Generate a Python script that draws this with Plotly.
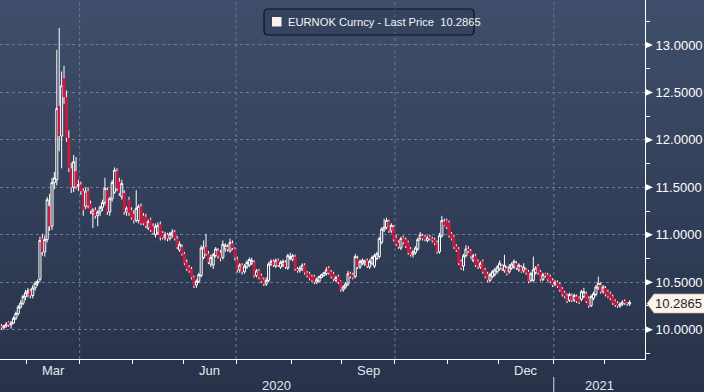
import plotly.graph_objects as go
import pandas as pd

# ---------------- data ----------------
start_date = "2020-02-14"
series_name = "EURNOK Curncy - Last Price"
last_price = 10.2865
y_ticks = [10.0, 10.5, 11.0, 11.5, 12.0, 12.5, 13.0]
labelled_months = ["Mar", "Jun", "Sep", "Dec"]

open_ = [
    10.04, 10.02, 10.04, 10.08, 10.05, 10.07, 10.12, 10.17, 10.24, 10.28,
    10.35, 10.39, 10.41, 10.36, 10.44, 10.49, 10.53, 10.96, 10.82, 10.95,
    11.30, 11.09, 11.55, 11.58, 12.36, 12.04, 12.65, 12.45, 12.02, 11.70,
    11.50, 11.67, 11.51, 11.53, 11.46, 11.30, 11.46, 11.33, 11.22, 11.26,
    11.20, 11.24, 11.29, 11.34, 11.47, 11.24, 11.38, 11.45, 11.67, 11.56,
    11.40, 11.44, 11.24, 11.37, 11.26, 11.22, 11.15, 11.15, 11.30, 11.20,
    11.19, 11.07, 11.16, 11.09, 11.00, 11.02, 11.11, 11.02, 10.97, 11.00,
    10.96, 11.00, 11.03, 10.96, 10.84, 10.87, 10.80, 10.71, 10.66, 10.64,
    10.55, 10.47, 10.51, 10.57, 10.76, 10.87, 10.80, 10.69, 10.68, 10.78,
    10.83, 10.81, 10.76, 10.85, 10.87, 10.83, 10.91, 10.85, 10.74, 10.63,
    10.68, 10.61, 10.66, 10.68, 10.70, 10.71, 10.57, 10.62, 10.57, 10.53,
    10.48, 10.52, 10.69, 10.72, 10.67, 10.73, 10.66, 10.68, 10.71, 10.65,
    10.75, 10.74, 10.77, 10.64, 10.62, 10.64, 10.68, 10.60, 10.59, 10.56,
    10.56, 10.50, 10.51, 10.55, 10.57, 10.59, 10.65, 10.61, 10.59, 10.52,
    10.56, 10.51, 10.42, 10.45, 10.48, 10.59, 10.58, 10.56, 10.75, 10.66,
    10.70, 10.69, 10.73, 10.66, 10.70, 10.67, 10.75, 10.77, 10.92, 11.05,
    11.08, 11.14, 11.04, 11.08, 10.97, 10.92, 10.86, 10.97, 10.95, 10.92,
    10.85, 10.79, 10.81, 10.85, 10.96, 10.99, 10.98, 10.94, 10.98, 10.96,
    10.95, 10.92, 10.82, 10.99, 11.14, 11.15, 11.13, 11.01, 10.98, 10.88,
    10.85, 10.72, 10.67, 10.78, 10.85, 10.83, 10.73, 10.78, 10.72, 10.66,
    10.72, 10.63, 10.59, 10.52, 10.56, 10.58, 10.61, 10.64, 10.67, 10.62,
    10.65, 10.61, 10.65, 10.66, 10.70, 10.63, 10.66, 10.62, 10.63, 10.61,
    10.52, 10.52, 10.60, 10.67, 10.61, 10.53, 10.59, 10.58, 10.56, 10.52,
    10.48, 10.50, 10.48, 10.43, 10.39, 10.36, 10.31, 10.36, 10.31, 10.35,
    10.33, 10.32, 10.35, 10.38, 10.33, 10.25, 10.33, 10.37, 10.44, 10.47,
    10.40, 10.44, 10.40, 10.38, 10.35, 10.30, 10.28, 10.25, 10.27, 10.30,
    10.28, 10.27,
]
high = [
    10.06, 10.05, 10.08, 10.09, 10.09, 10.14, 10.19, 10.26, 10.31, 10.37,
    10.42, 10.44, 10.43, 10.47, 10.51, 10.53, 10.98, 11.01, 10.99, 11.40,
    11.43, 11.60, 11.66, 12.95, 13.18, 12.72, 12.78, 12.52, 12.10, 11.76,
    11.84, 11.82, 11.58, 11.56, 11.49, 11.50, 11.50, 11.36, 11.28, 11.29,
    11.26, 11.31, 11.37, 11.60, 11.50, 11.40, 11.58, 11.71, 11.70, 11.60,
    11.58, 11.47, 11.30, 11.40, 11.29, 11.26, 11.47, 11.32, 11.33, 11.23,
    11.22, 11.16, 11.18, 11.12, 11.12, 11.13, 11.14, 11.04, 11.03, 11.02,
    11.03, 11.06, 11.05, 10.99, 10.93, 10.90, 10.82, 10.74, 10.68, 10.66,
    10.57, 10.53, 10.60, 10.89, 10.94, 11.01, 10.83, 10.79, 10.81, 10.87,
    10.86, 10.84, 10.94, 10.91, 10.90, 10.96, 10.94, 10.87, 10.77, 10.70,
    10.70, 10.69, 10.73, 10.76, 10.76, 10.73, 10.64, 10.64, 10.59, 10.55,
    10.55, 10.71, 10.74, 10.74, 10.75, 10.75, 10.73, 10.74, 10.73, 10.80,
    10.81, 10.80, 10.79, 10.66, 10.67, 10.70, 10.70, 10.62, 10.61, 10.58,
    10.58, 10.55, 10.57, 10.59, 10.61, 10.66, 10.67, 10.63, 10.61, 10.57,
    10.58, 10.52, 10.47, 10.50, 10.62, 10.61, 10.60, 10.80, 10.78, 10.74,
    10.75, 10.74, 10.75, 10.74, 10.78, 10.80, 10.82, 10.98, 11.08, 11.17,
    11.18, 11.16, 11.12, 11.10, 11.00, 10.94, 10.98, 10.99, 10.97, 10.94,
    10.87, 10.84, 10.88, 10.97, 11.03, 11.01, 11.00, 10.99, 11.00, 10.98,
    10.97, 10.94, 11.02, 11.20, 11.17, 11.17, 11.15, 11.03, 11.00, 10.90,
    10.87, 10.74, 10.80, 10.89, 10.88, 10.85, 10.80, 10.80, 10.74, 10.72,
    10.74, 10.65, 10.61, 10.60, 10.63, 10.65, 10.68, 10.73, 10.69, 10.79,
    10.67, 10.69, 10.71, 10.74, 10.72, 10.70, 10.68, 10.70, 10.65, 10.63,
    10.61, 10.77, 10.67, 10.69, 10.63, 10.60, 10.60, 10.60, 10.58, 10.54,
    10.52, 10.52, 10.50, 10.45, 10.41, 10.38, 10.39, 10.38, 10.38, 10.37,
    10.35, 10.42, 10.44, 10.40, 10.35, 10.37, 10.40, 10.47, 10.56, 10.50,
    10.47, 10.46, 10.42, 10.40, 10.37, 10.32, 10.30, 10.29, 10.31, 10.32,
    10.29, 10.31,
]
low = [
    10.00, 10.00, 10.02, 10.03, 10.01, 10.06, 10.10, 10.15, 10.22, 10.26,
    10.31, 10.34, 10.33, 10.33, 10.41, 10.46, 10.50, 10.78, 10.77, 10.92,
    11.04, 11.05, 11.48, 11.52, 11.88, 11.70, 12.38, 11.98, 11.66, 11.44,
    11.45, 11.48, 11.46, 11.42, 11.20, 11.27, 11.28, 11.22, 11.07, 11.17,
    11.09, 11.20, 11.25, 11.31, 11.21, 11.20, 11.35, 11.43, 11.46, 11.41,
    11.37, 11.21, 11.20, 11.20, 11.16, 11.12, 11.13, 11.12, 11.10, 11.10,
    11.07, 11.05, 11.03, 11.00, 10.97, 11.00, 10.94, 10.95, 10.94, 10.93,
    10.94, 10.97, 10.94, 10.85, 10.82, 10.78, 10.68, 10.62, 10.60, 10.53,
    10.44, 10.44, 10.49, 10.55, 10.74, 10.78, 10.69, 10.66, 10.64, 10.76,
    10.75, 10.72, 10.74, 10.82, 10.82, 10.81, 10.84, 10.73, 10.60, 10.60,
    10.58, 10.59, 10.64, 10.66, 10.68, 10.55, 10.55, 10.53, 10.49, 10.46,
    10.46, 10.50, 10.67, 10.66, 10.65, 10.66, 10.64, 10.66, 10.64, 10.63,
    10.73, 10.72, 10.62, 10.60, 10.60, 10.62, 10.58, 10.55, 10.52, 10.50,
    10.48, 10.48, 10.50, 10.54, 10.56, 10.57, 10.58, 10.54, 10.51, 10.50,
    10.48, 10.40, 10.40, 10.43, 10.46, 10.54, 10.53, 10.54, 10.64, 10.64,
    10.68, 10.67, 10.65, 10.64, 10.68, 10.65, 10.73, 10.75, 10.90, 11.03,
    11.06, 11.02, 11.02, 10.93, 10.88, 10.85, 10.84, 10.90, 10.86, 10.79,
    10.77, 10.76, 10.79, 10.83, 10.94, 10.94, 10.93, 10.92, 10.94, 10.92,
    10.89, 10.80, 10.80, 10.97, 11.09, 11.06, 10.97, 10.94, 10.85, 10.82,
    10.68, 10.63, 10.62, 10.76, 10.81, 10.75, 10.71, 10.66, 10.64, 10.64,
    10.59, 10.54, 10.50, 10.50, 10.54, 10.56, 10.59, 10.62, 10.62, 10.60,
    10.57, 10.59, 10.63, 10.64, 10.63, 10.61, 10.60, 10.60, 10.58, 10.49,
    10.50, 10.50, 10.58, 10.58, 10.51, 10.51, 10.55, 10.51, 10.49, 10.45,
    10.46, 10.44, 10.40, 10.35, 10.33, 10.28, 10.29, 10.29, 10.29, 10.28,
    10.27, 10.30, 10.33, 10.28, 10.23, 10.24, 10.31, 10.35, 10.42, 10.38,
    10.38, 10.35, 10.33, 10.31, 10.26, 10.24, 10.23, 10.23, 10.25, 10.26,
    10.25, 10.25,
]
close = [
    10.02, 10.04, 10.06, 10.05, 10.07, 10.12, 10.17, 10.24, 10.28, 10.35,
    10.39, 10.41, 10.36, 10.44, 10.49, 10.51, 10.94, 10.82, 10.95, 11.37,
    11.09, 11.55, 11.60, 12.33, 12.04, 12.57, 12.45, 12.02, 11.70, 11.50,
    11.77, 11.51, 11.53, 11.46, 11.26, 11.46, 11.31, 11.25, 11.26, 11.20,
    11.24, 11.29, 11.34, 11.49, 11.24, 11.38, 11.55, 11.68, 11.49, 11.44,
    11.54, 11.24, 11.28, 11.23, 11.18, 11.15, 11.28, 11.30, 11.12, 11.12,
    11.09, 11.14, 11.05, 11.02, 11.09, 11.10, 10.97, 10.97, 11.00, 10.96,
    11.01, 11.03, 10.96, 10.87, 10.90, 10.80, 10.70, 10.64, 10.62, 10.55,
    10.46, 10.51, 10.58, 10.86, 10.87, 10.80, 10.71, 10.76, 10.79, 10.85,
    10.78, 10.75, 10.90, 10.89, 10.85, 10.92, 10.86, 10.76, 10.63, 10.68,
    10.61, 10.67, 10.71, 10.74, 10.73, 10.57, 10.62, 10.55, 10.51, 10.48,
    10.52, 10.69, 10.72, 10.68, 10.73, 10.68, 10.71, 10.72, 10.66, 10.78,
    10.77, 10.78, 10.64, 10.62, 10.65, 10.68, 10.60, 10.57, 10.54, 10.52,
    10.50, 10.53, 10.56, 10.58, 10.60, 10.63, 10.60, 10.56, 10.53, 10.55,
    10.50, 10.42, 10.45, 10.48, 10.59, 10.56, 10.55, 10.77, 10.66, 10.72,
    10.73, 10.72, 10.67, 10.72, 10.76, 10.78, 10.80, 10.96, 11.06, 11.08,
    11.15, 11.04, 11.10, 10.95, 10.90, 10.87, 10.96, 10.92, 10.88, 10.81,
    10.79, 10.82, 10.86, 10.95, 11.00, 10.96, 10.95, 10.97, 10.96, 10.94,
    10.91, 10.82, 10.99, 11.15, 11.10, 11.08, 10.99, 10.96, 10.87, 10.84,
    10.70, 10.65, 10.78, 10.85, 10.83, 10.77, 10.78, 10.68, 10.66, 10.70,
    10.61, 10.56, 10.52, 10.58, 10.61, 10.63, 10.66, 10.70, 10.65, 10.68,
    10.59, 10.66, 10.69, 10.72, 10.65, 10.68, 10.61, 10.66, 10.60, 10.51,
    10.59, 10.63, 10.65, 10.60, 10.53, 10.58, 10.57, 10.53, 10.51, 10.47,
    10.50, 10.46, 10.42, 10.37, 10.35, 10.30, 10.37, 10.31, 10.36, 10.30,
    10.29, 10.40, 10.40, 10.30, 10.25, 10.35, 10.38, 10.45, 10.49, 10.40,
    10.45, 10.37, 10.35, 10.33, 10.28, 10.26, 10.25, 10.27, 10.29, 10.28,
    10.27, 10.2865,
]

# ---------------- geometry / style ----------------
W, H = 704, 392
MR, MB = 59, 33
PW, PH = W - MR, H - MB          # plot area 645 x 359
FONT = "Liberation Sans, Arial, sans-serif"
RED = "#c41c42"
GRID = "#6a7c98"
TXT = "#ffffff"

dates = pd.bdate_range(start_date, periods=len(close))
pos = list(range(len(dates)))
x_range = [-0.6, 267.4]
y_range = [9.691, 13.474]


def pxx(p):
    return p / PW


def pxy(p):
    return (PH - p) / PH


# month boundaries (between last trading day of a month and first of the next)
bounds = []
for k in range(1, len(dates)):
    if dates[k].month != dates[k - 1].month:
        bounds.append((k - 0.5, dates[k]))

body_top = [max(o, c) for o, c in zip(open_, close)]
body_bot = [min(o, c) for o, c in zip(open_, close)]

# white wicks (upper and lower) drawn from the high / low lists
wx, wy = [], []
for k in pos:
    wx += [k, k, None, k, k, None]
    wy += [low[k], body_bot[k], None, body_top[k], high[k], None]

fig = go.Figure()
fig.add_trace(go.Scatter(x=wx, y=wy, mode="lines", line=dict(color="white", width=1),
                         hoverinfo="skip", showlegend=False))
fig.add_trace(go.Candlestick(
    x=pos, open=open_, high=body_top, low=body_bot, close=close,
    increasing=dict(line=dict(color="white", width=1), fillcolor="rgba(0,0,0,0)"),
    decreasing=dict(line=dict(color=RED, width=1), fillcolor=RED),
    whiskerwidth=0, showlegend=False, hoverinfo="skip",
))

shapes = []
# gradient background
top = (63, 78, 106)
bot = (40, 50, 73)
n = 40
y_lo, y_hi = (PH - H) / PH, 1.0
for j in range(n):
    t = j / (n - 1)
    c = tuple(int(round(bot[m] + (top[m] - bot[m]) * t)) for m in range(3))
    y0 = y_lo + (y_hi - y_lo) * j / n
    y1 = y_lo + (y_hi - y_lo) * (j + 1) / n + 0.002
    shapes.append(dict(type="rect", xref="paper", yref="paper", x0=-0.01, x1=1.2,
                       y0=y0, y1=y1, fillcolor="rgb(%d,%d,%d)" % c, line_width=0,
                       layer="below"))

# quarterly vertical gridlines
for b, d in bounds:
    if d.month in (1, 4, 7, 10):
        shapes.append(dict(type="line", xref="x", yref="paper", x0=b, x1=b, y0=0, y1=1,
                           line=dict(color=GRID, width=1, dash="3px,3px"), layer="below"))

# year separator under the axis
jan_b = [b for b, d in bounds if d.month == 1][0]
shapes.append(dict(type="line", xref="x", yref="paper", x0=jan_b, x1=jan_b,
                   y0=pxy(377), y1=pxy(392), line=dict(color="#d8dde6", width=1)))

# triangular major ticks on the right axis
dv = 3.6 * (y_range[1] - y_range[0]) / PH
for v in y_ticks:
    shapes.append(dict(type="path", xref="paper", yref="y",
                       path="M 1,%f L %f,%f L 1,%f Z" % (v - dv, 1 + 8 / PW, v, v + dv),
                       fillcolor="white", line_width=0))

# legend box (rounded) + square marker
bx0, bx1, by0, by1, r = 264, 474, 9, 35, 4
p = ("M %f,%f L %f,%f Q %f,%f %f,%f L %f,%f Q %f,%f %f,%f L %f,%f Q %f,%f %f,%f "
     "L %f,%f Q %f,%f %f,%f Z") % (
    pxx(bx0 + r), pxy(by0), pxx(bx1 - r), pxy(by0), pxx(bx1), pxy(by0), pxx(bx1), pxy(by0 + r),
    pxx(bx1), pxy(by1 - r), pxx(bx1), pxy(by1), pxx(bx1 - r), pxy(by1),
    pxx(bx0 + r), pxy(by1), pxx(bx0), pxy(by1), pxx(bx0), pxy(by1 - r),
    pxx(bx0), pxy(by0 + r), pxx(bx0), pxy(by0), pxx(bx0 + r), pxy(by0))
shapes.append(dict(type="path", xref="paper", yref="paper", path=p,
                   fillcolor="rgba(30,38,58,0.25)", line=dict(color="#0d1220", width=1.2)))
shapes.append(dict(type="rect", xref="paper", yref="paper", x0=pxx(272), x1=pxx(281.5),
                   y0=pxy(26.5), y1=pxy(17), fillcolor="#fdf1ec", line_width=0))

# last-price tag
tag_y = 303.5
tp = "M %f,%f L %f,%f L %f,%f L %f,%f L %f,%f Z" % (
    pxx(647), pxy(tag_y), pxx(654), pxy(tag_y - 9.5), pxx(705), pxy(tag_y - 9.5),
    pxx(705), pxy(tag_y + 9.5), pxx(654), pxy(tag_y + 9.5))
shapes.append(dict(type="path", xref="paper", yref="paper", path=tp,
                   fillcolor="#fdf3e6", line=dict(color="#c9c2b8", width=0.6)))

annotations = []
# month labels centred in their month
months = {}
for k, d in enumerate(dates):
    months.setdefault((d.year, d.month), []).append(k)
for (yy, mm), ks in months.items():
    name = pd.Timestamp(year=yy, month=mm, day=1).strftime("%b")
    if name in labelled_months:
        annotations.append(dict(x=(ks[0] + ks[-1]) / 2, y=pxy(370), xref="x", yref="paper",
                                text=name, showarrow=False, xanchor="center", yanchor="middle",
                                font=dict(family=FONT, size=13, color="#e4e8ee")))
# year labels
annotations.append(dict(x=(x_range[0] + jan_b) / 2, y=pxy(385), xref="x", yref="paper",
                        text=str(dates[0].year), showarrow=False, xanchor="center",
                        yanchor="middle", font=dict(family=FONT, size=13, color="#e4e8ee")))
annotations.append(dict(x=(jan_b + x_range[1]) / 2, y=pxy(385), xref="x", yref="paper",
                        text=str(dates[-1].year), showarrow=False, xanchor="center",
                        yanchor="middle", font=dict(family=FONT, size=13, color="#e4e8ee")))
# legend text
annotations.append(dict(x=pxx(286), y=pxy(22), xref="paper", yref="paper",
                        text="%s\u00a0\u00a0%.4f" % (series_name, last_price),
                        showarrow=False, xanchor="left", yanchor="middle",
                        font=dict(family=FONT, size=11.2, color="#f2f4f8")))
# last-price tag text
annotations.append(dict(x=pxx(678), y=pxy(tag_y), xref="paper", yref="paper",
                        text="%.4f" % last_price, showarrow=False, xanchor="center",
                        yanchor="middle", font=dict(family=FONT, size=13, color="#1c2435")))

fig.update_layout(
    width=W, height=H, autosize=False,
    margin=dict(l=0, r=MR, t=0, b=MB, pad=0),
    paper_bgcolor="rgb(%d,%d,%d)" % bot, plot_bgcolor="rgba(0,0,0,0)",
    font=dict(family=FONT, size=13, color=TXT),
    shapes=shapes, annotations=annotations, showlegend=False,
    boxgap=0.15, boxgroupgap=0,
    xaxis=dict(range=x_range, rangeslider=dict(visible=False), showgrid=False,
               zeroline=False, showline=True, linecolor="white", linewidth=1,
               tickmode="array", tickvals=[b for b, d in bounds],
               ticktext=["" for _ in bounds], ticks="outside", ticklen=4,
               tickcolor="white", tickwidth=1, fixedrange=True),
    yaxis=dict(range=y_range, side="right", showgrid=True, gridcolor=GRID,
               griddash="3px,3px", gridwidth=1, zeroline=False, showline=True,
               linecolor="white", linewidth=1, tick0=10, dtick=0.5,
               tickformat=".4f", ticks="outside", ticklen=7, tickcolor="rgba(0,0,0,0)",
               tickfont=dict(family=FONT, size=13, color=TXT),
               minor=dict(dtick=0.25, tick0=9.75, ticks="outside", ticklen=4,
                          tickcolor="white", tickwidth=1, showgrid=False),
               fixedrange=True),
)

fig.write_html("out.html", config={"displayModeBar": False},
               post_script="document.body.style.margin='0px';document.body.style.overflow='hidden';")
